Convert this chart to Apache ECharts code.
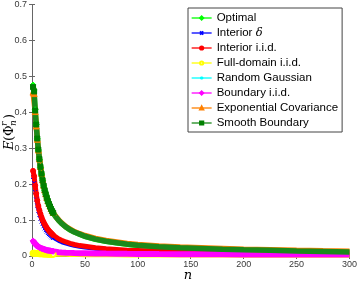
<!DOCTYPE html>
<html><head><meta charset="utf-8">
<script src="https://cdn.jsdelivr.net/npm/echarts@6/dist/echarts.min.js"></script>
<style>html,body{margin:0;padding:0;background:#fff}#c{width:360px;height:281px}</style>
</head><body><div id="c"></div>
<script>
const nVals = [1,2,3,4,5,6,7,8,9,10,11,12,13,14,15,16,17,18,19,20,22,25,28,32,36,40,45,50,60,70,80,90,100,120,140,160,180,200,225,250,275,300];
const xTicks = [0,50,100,150,200,250,300];
const yTicks = [0,0.1,0.2,0.3,0.4,0.5,0.6,0.7];
const names = ['Optimal','Interior δ','Interior i.i.d.','Full-domain i.i.d.','Random Gaussian','Boundary i.i.d.','Exponential Covariance','Smooth Boundary'];

const optimal = [.476,.462,.407,.366,.326,.295,.269,.247,.228,.210,.195,.182,.171,.161,.152,.144,.137,.130,.124,.119,.110,.099,.090,.080,.072,.066,.060,.054,.046,.040,.036,.032,.029,.025,.022,.020,.018,.017,.015,.0135,.012,.0105];
const interiorDelta = [.220,.203,.178,.157,.140,.126,.114,.104,.096,.089,.083,.077,.072,.068,.064,.061,.058,.055,.052,.050,.046,.041,.037,.033,.030,.027,.024,.022,.019,.017,.015,.0135,.0125,.0108,.0095,.0085,.0077,.0071,.0064,.0058,.0054,.005];
const interiorIid = [.237,.222,.196,.173,.154,.139,.127,.117,.108,.100,.094,.088,.083,.078,.074,.070,.067,.064,.061,.058,.054,.048,.044,.039,.035,.032,.029,.027,.023,.020,.018,.016,.015,.013,.011,.010,.0093,.0086,.0078,.0071,.0066,.0061];
const fullDomain = [.008,.0078,.0075,.0072,.007,.0067,.0065,.0063,.0061,.006,.0058,.0056,.0055,.0053,.0052,.0051,.005,.0049,.0048,.0047,.0045,.0043,.0041,.0039,.0037,.0035,.0033,.0031,.0029,.0027,.0025,.0024,.0023,.0021,.002,.0019,.0018,.0017,.0016,.0015,.0014,.0014];
const randomGaussian = [.472,.460,.406,.366,.327,.296,.270,.248,.229,.211,.196,.183,.172,.162,.153,.145,.138,.131,.125,.120,.111,.100,.091,.081,.073,.067,.061,.055,.047,.041,.037,.033,.030,.026,.023,.021,.019,.0175,.016,.014,.0125,.011];
const boundaryIid = [.042,.038,.034,.031,.028,.026,.024,.022,.021,.020,.019,.018,.017,.016,.0155,.015,.0145,.014,.0135,.013,.0122,.0105,.0098,.0092,.0087,.0083,.008,.0078,.0072,.0067,.0063,.006,.0058,.0054,.0051,.0048,.0046,.0045,.0043,.0042,.0041,.004];
const expCov = [.456,.452,.402,.362,.325,.295,.270,.249,.230,.212,.197,.184,.173,.163,.154,.146,.139,.132,.126,.121,.112,.101,.092,.082,.075,.068,.062,.057,.049,.043,.039,.035,.032,.028,.025,.023,.021,.019,.0175,.0158,.0143,.013];
const smoothBoundary = [.470,.458,.405,.366,.327,.296,.270,.248,.229,.211,.196,.183,.172,.162,.153,.145,.138,.131,.125,.120,.111,.100,.091,.081,.073,.067,.061,.055,.047,.041,.037,.033,.030,.026,.023,.021,.019,.0175,.016,.014,.0125,.011];

// markers drawn for the densely sampled start; the tail is a thick band like overlapping markers
const pairs = arr => nVals.map((n,i)=> n <= 20 ? [n, arr[i]] : {value:[n, arr[i]], symbol:'none'});
const cross = 'path://M0,0L10,10M10,0L0,10';
const plus = 'path://M5,0L5,10M0,5L10,5';

function ser(name, data, color, symbol, size, lw, lineColor) {
  return {
    name, type:'line', data: pairs(data), symbol, symbolSize:size, showSymbol:true,
    lineStyle:{color: lineColor || color, width:lw}, itemStyle:{color, borderColor:color, borderWidth:1},
    emphasis:{disabled:true}, silent:true, animation:false, clip:false
  };
}

const chart = echarts.init(document.getElementById('c'), null, {renderer:'canvas'});
const axisCol = '#666';
const labCol = '#3a3a3a';
chart.setOption({
  animation:false,
  grid:{left:32, right:7, top:3, bottom:25},
  xAxis:[{type:'value', min:0, max:300, interval:50,
    axisLine:{show:true, lineStyle:{color:axisCol, width:1}},
    axisTick:{inside:true, length:3, lineStyle:{color:axisCol}},
    axisLabel:{color:labCol, fontSize:9, fontFamily:'Liberation Sans', margin:4,
      formatter: v => xTicks.includes(v) ? String(v) : ''},
    splitLine:{show:false}},
    {type:'value', position:'top', min:0, max:300, interval:50,
    axisLine:{show:true, lineStyle:{color:axisCol, width:1}},
    axisTick:{inside:true, length:3, lineStyle:{color:axisCol}},
    axisLabel:{show:false}, splitLine:{show:false}}],
  yAxis:[{type:'value', min:0, max:0.7, interval:0.1,
    axisLine:{show:true, lineStyle:{color:axisCol, width:1}},
    axisTick:{show:true, inside:true, length:3, lineStyle:{color:axisCol}},
    axisLabel:{color:labCol, fontSize:9, fontFamily:'Liberation Sans', margin:5,
      formatter: v => { const t = yTicks.find(y=>Math.abs(y-v)<1e-9); return t===undefined?'':(t===0?'0':String(+t.toFixed(1))); }},
    splitLine:{show:false}},
    {type:'value', position:'right', min:0, max:0.7, interval:0.1,
    axisLine:{show:true, lineStyle:{color:axisCol, width:1}},
    axisTick:{show:true, inside:true, length:3, lineStyle:{color:axisCol}},
    axisLabel:{show:false}, splitLine:{show:false}}],
  legend:{
    data: names, orient:'vertical', left:188, top:8,
    backgroundColor:'#fff', borderColor:'#444', borderWidth:1,
    padding:[3,4,2,3], itemGap:1, itemWidth:20, itemHeight:4,
    lineStyle:{width:1.3},
    textStyle:{fontSize:11.5, fontFamily:'Liberation Sans', color:'#000', lineHeight:14,
      rich:{t:{fontSize:11.5, fontFamily:'Liberation Sans', color:'#000', lineHeight:14},
            g:{fontSize:11.5, fontFamily:'DejaVu Serif', fontStyle:'italic', color:'#000', lineHeight:14}}},
    formatter: name => name === 'Interior δ' ? '{t|Interior }{g|δ}' : name,
    selectedMode:false
  },
  series:[
    ser(names[0], optimal, '#00ff00', 'diamond', 6, 5),
    ser(names[1], interiorDelta, '#0000ff', cross, 4, 3),
    ser(names[2], interiorIid, '#ff0000', 'circle', 5, 5),
    ser(names[3], fullDomain, '#ffff00', 'emptyCircle', 5, 4.5),
    ser(names[4], randomGaussian, '#00ffff', plus, 5, 2),
    ser(names[5], boundaryIid, '#ff00ff', 'diamond', 6, 6),
    ser(names[6], expCov, '#ff8000', 'triangle', 6, 5.5),
    ser(names[7], smoothBoundary, '#008000', 'rect', 5, 5.5, '#1b8a1b')
  ],
  graphic:[
    {type:'group', x:10, y:129, rotation:Math.PI/2, silent:true, children:[
      {type:'text', x:-21, y:0, style:{text:'E', font:'italic 13px "DejaVu Serif"', fill:'#000', textVerticalAlign:'middle'}},
      {type:'text', x:-12, y:0, style:{text:'(Φ', font:'13px "DejaVu Serif"', fill:'#000', textVerticalAlign:'middle'}},
      {type:'text', x:3, y:-5, style:{text:'r', font:'italic 9px "DejaVu Serif"', fill:'#000', textVerticalAlign:'middle'}},
      {type:'text', x:3, y:4, style:{text:'n', font:'italic 9px "DejaVu Serif"', fill:'#000', textVerticalAlign:'middle'}},
      {type:'text', x:10, y:0, style:{text:')', font:'13px "DejaVu Serif"', fill:'#000', textVerticalAlign:'middle'}}
    ]},
    {type:'text', x:188, y:276, silent:true, style:{text:'n', font:'italic 13px "DejaVu Serif"', fill:'#000', textAlign:'center', textVerticalAlign:'middle'}}
  ]
});
</script></body></html>
